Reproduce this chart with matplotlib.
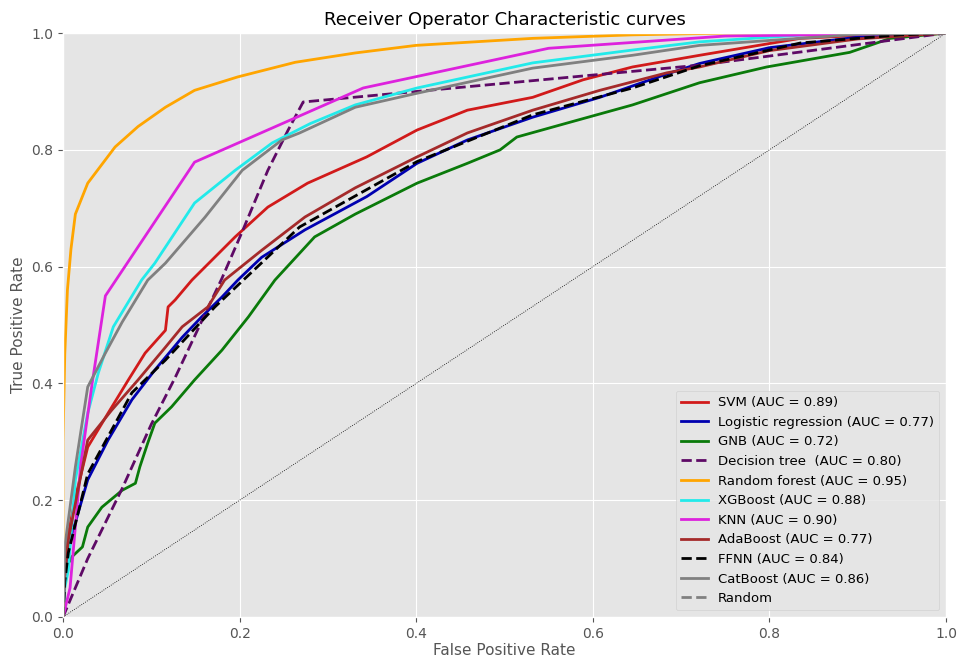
import numpy as np
import matplotlib
matplotlib.use('Agg')
import matplotlib.pyplot as plt
from matplotlib.lines import Line2D

plt.style.use('ggplot')

# ROC points (fpr, tpr)
svm_fpr = [0, 0, 0.002, 0.014, 0.028, 0.051, 0.074, 0.093, 0.116, 0.119, 0.127, 0.146, 0.195, 0.232,
           0.277, 0.344, 0.401, 0.458, 0.532, 0.589, 0.645, 0.721, 0.835, 0.93, 1.0]
svm_tpr = [0, 0.06, 0.11, 0.205, 0.291, 0.349, 0.406, 0.452, 0.491, 0.531, 0.543, 0.577, 0.651, 0.702,
           0.743, 0.788, 0.834, 0.868, 0.89, 0.92, 0.942, 0.962, 0.991, 0.998, 1.0]

lr_fpr = [0, 0.002, 0.006, 0.028, 0.051, 0.078, 0.104, 0.135, 0.157, 0.18, 0.198, 0.225, 0.274, 0.344,
          0.401, 0.458, 0.532, 0.608, 0.684, 0.721, 0.8, 0.9, 1.0]
lr_tpr = [0, 0.07, 0.12, 0.235, 0.303, 0.372, 0.423, 0.479, 0.514, 0.548, 0.577, 0.616, 0.663, 0.72,
          0.777, 0.817, 0.856, 0.89, 0.93, 0.948, 0.975, 0.993, 1.0]

gnb_fpr = [0, 0.002, 0.01, 0.022, 0.028, 0.044, 0.067, 0.082, 0.087, 0.096, 0.104, 0.123, 0.149, 0.18,
           0.21, 0.24, 0.285, 0.331, 0.401, 0.458, 0.495, 0.514, 0.571, 0.645, 0.721, 0.797, 0.891,
           0.937, 1.0]
gnb_tpr = [0, 0.08, 0.103, 0.12, 0.154, 0.188, 0.217, 0.229, 0.257, 0.298, 0.332, 0.36, 0.406, 0.457,
           0.514, 0.577, 0.651, 0.69, 0.743, 0.777, 0.80, 0.822, 0.846, 0.877, 0.915, 0.942, 0.967,
           0.991, 1.0]

dt_fpr = [0, 0.028, 0.067, 0.10, 0.127, 0.155, 0.18, 0.203, 0.232, 0.255, 0.272, 0.72, 1.0]
dt_tpr = [0, 0.10, 0.22, 0.33, 0.41, 0.50, 0.58, 0.66, 0.765, 0.834, 0.882, 0.945, 1.0]

rf_fpr = [0, 0, 0.002, 0.005, 0.009, 0.014, 0.028, 0.059, 0.085, 0.116, 0.149, 0.198, 0.263, 0.331,
          0.40, 0.532, 0.645, 0.75, 1.0]
rf_tpr = [0, 0.30, 0.45, 0.56, 0.63, 0.69, 0.743, 0.805, 0.84, 0.873, 0.902, 0.925, 0.95, 0.966,
          0.979, 0.991, 0.997, 1.0, 1.0]

xgb_fpr = [0, 0.002, 0.006, 0.014, 0.028, 0.04, 0.057, 0.089, 0.104, 0.149, 0.195, 0.237, 0.28, 0.331,
           0.401, 0.532, 0.645, 0.721, 0.85, 1.0]
xgb_tpr = [0, 0.05, 0.08, 0.235, 0.349, 0.418, 0.497, 0.577, 0.606, 0.709, 0.765, 0.812, 0.845, 0.877,
           0.906, 0.949, 0.971, 0.985, 0.998, 1.0]

knn_fpr = [0, 0.008, 0.02, 0.033, 0.048, 0.149, 0.34, 0.55, 0.75, 1.0]
knn_tpr = [0, 0.05, 0.26, 0.40, 0.55, 0.779, 0.906, 0.974, 0.995, 1.0]

ada_fpr = [0, 0.002, 0.006, 0.028, 0.055, 0.085, 0.116, 0.135, 0.164, 0.183, 0.225, 0.274, 0.331,
           0.401, 0.458, 0.532, 0.608, 0.684, 0.721, 0.8, 0.9, 1.0]
ada_tpr = [0, 0.07, 0.132, 0.303, 0.354, 0.406, 0.462, 0.497, 0.531, 0.577, 0.628, 0.685, 0.735,
           0.788, 0.829, 0.868, 0.902, 0.932, 0.942, 0.97, 0.99, 1.0]

ffnn_fpr = [0, 0.002, 0.006, 0.028, 0.078, 0.116, 0.172, 0.268, 0.401, 0.532, 0.645, 0.721, 0.835,
            0.948, 1.0]
ffnn_tpr = [0, 0.06, 0.11, 0.245, 0.384, 0.44, 0.531, 0.668, 0.78, 0.86, 0.906, 0.944, 0.983,
            0.997, 1.0]

cat_fpr = [0, 0.002, 0.014, 0.028, 0.048, 0.067, 0.096, 0.116, 0.161, 0.203, 0.248, 0.268, 0.331,
           0.401, 0.532, 0.645, 0.721, 0.9, 1.0]
cat_tpr = [0, 0.12, 0.257, 0.394, 0.452, 0.505, 0.577, 0.606, 0.685, 0.765, 0.817, 0.829, 0.873,
           0.897, 0.94, 0.962, 0.979, 0.998, 1.0]

fig = plt.figure(figsize=(9.59, 6.62), dpi=100)
ax = fig.add_axes([0.0657, 0.068, 0.9207, 0.882])

ax.plot([0, 1], [0, 1], color='k', linestyle=':', linewidth=0.6)

ax.plot(svm_fpr, svm_tpr, color='#d11a1a', lw=2, label='SVM (AUC = 0.89)')
ax.plot(lr_fpr, lr_tpr, color='#0000b0', lw=2, label='Logistic regression (AUC = 0.77)')
ax.plot(gnb_fpr, gnb_tpr, color='#0a7a0a', lw=2, label='GNB (AUC = 0.72)')
ax.plot(dt_fpr, dt_tpr, color='#5e0a66', lw=2, linestyle='--', label='Decision tree  (AUC = 0.80)')
ax.plot(rf_fpr, rf_tpr, color='orange', lw=2, label='Random forest (AUC = 0.95)')
ax.plot(xgb_fpr, xgb_tpr, color='#22eaea', lw=2, label='XGBoost (AUC = 0.88)')
ax.plot(knn_fpr, knn_tpr, color='#dd22dd', lw=2, label='KNN (AUC = 0.90)')
ax.plot(ada_fpr, ada_tpr, color='brown', lw=2, label='AdaBoost (AUC = 0.77)')
ax.plot(ffnn_fpr, ffnn_tpr, color='k', lw=2, linestyle='--', label='FFNN (AUC = 0.84)')
ax.plot(cat_fpr, cat_tpr, color='gray', lw=2, label='CatBoost (AUC = 0.86)')

handles, labels = ax.get_legend_handles_labels()
handles.append(Line2D([], [], color='gray', lw=2, linestyle='--'))
labels.append('Random')
ax.legend(handles, labels, loc='lower right', fontsize=9.5)

ax.set_xlim(0, 1)
ax.set_ylim(0, 1)
ax.set_xlabel('False Positive Rate', fontsize=11, labelpad=2)
ax.set_ylabel('True Positive Rate', fontsize=11)
ax.set_title('Receiver Operator Characteristic curves', fontsize=13)

fig.savefig('out.png', dpi=100)
